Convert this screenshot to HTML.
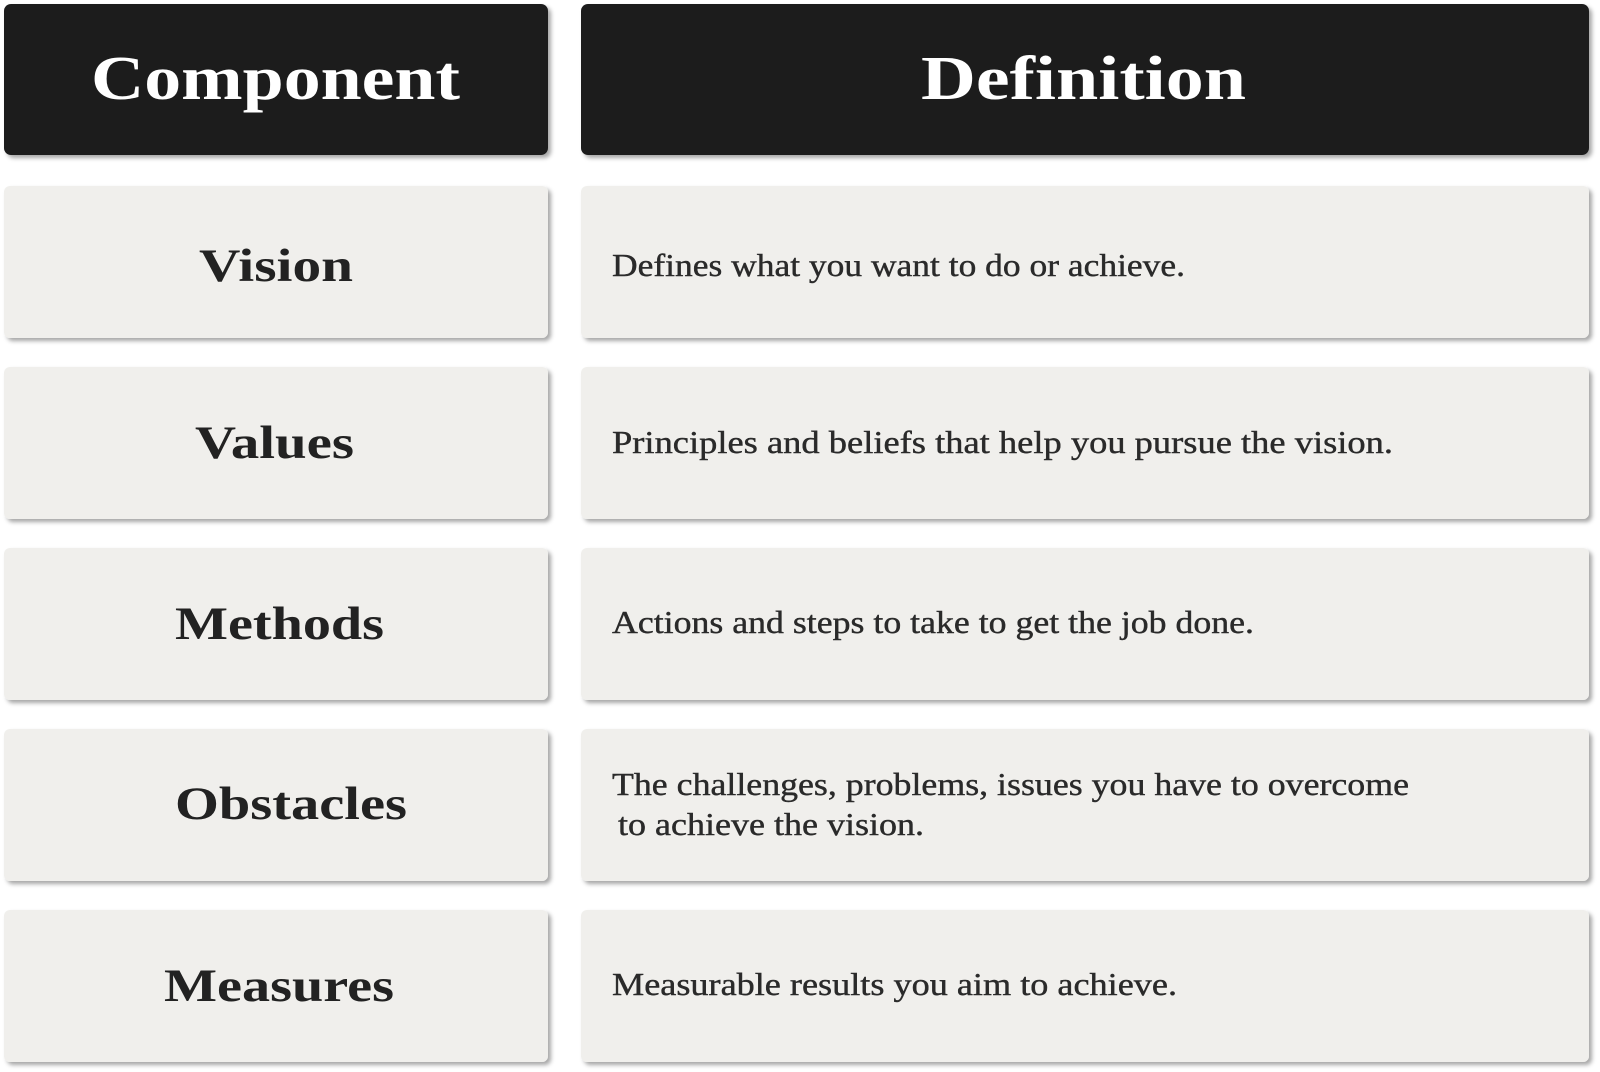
<!DOCTYPE html>
<html><head><meta charset="utf-8"><style>
html,body{margin:0;padding:0;background:#fff;width:1600px;height:1072px;overflow:hidden}
</style></head><body>
<svg width="1600" height="1072" viewBox="0 0 1600 1072" xmlns="http://www.w3.org/2000/svg">
<defs>
<filter id="sh" x="-5%" y="-10%" width="110%" height="125%">
<feDropShadow dx="3" dy="3" stdDeviation="2" flood-color="#000" flood-opacity="0.35"/>
</filter>
</defs>
<g filter="url(#sh)">
<rect x="4" y="4" width="544" height="151" rx="7" fill="#1f1f1f"/>
<rect x="581" y="4" width="1008" height="151" rx="7" fill="#1f1f1f"/>
<rect x="4" y="186" width="544" height="152" rx="6" fill="#f0efec"/>
<rect x="581" y="186" width="1008" height="152" rx="6" fill="#f0efec"/>
<rect x="4" y="367" width="544" height="152" rx="6" fill="#f0efec"/>
<rect x="581" y="367" width="1008" height="152" rx="6" fill="#f0efec"/>
<rect x="4" y="548" width="544" height="152" rx="6" fill="#f0efec"/>
<rect x="581" y="548" width="1008" height="152" rx="6" fill="#f0efec"/>
<rect x="4" y="729" width="544" height="152" rx="6" fill="#f0efec"/>
<rect x="581" y="729" width="1008" height="152" rx="6" fill="#f0efec"/>
<rect x="4" y="910" width="544" height="152" rx="6" fill="#f0efec"/>
<rect x="581" y="910" width="1008" height="152" rx="6" fill="#f0efec"/>
</g>
<g font-family="'Liberation Serif', serif" font-weight="bold">
<text x="91" y="99" font-size="62" fill="#fff" textLength="369" lengthAdjust="spacingAndGlyphs">Component</text>
<text x="921" y="99" font-size="62" fill="#fff" textLength="325" lengthAdjust="spacingAndGlyphs">Definition</text>
<g fill="#222" font-size="47">
<text x="199" y="281" textLength="154" lengthAdjust="spacingAndGlyphs">Vision</text>
<text x="195" y="458" textLength="159" lengthAdjust="spacingAndGlyphs">Values</text>
<text x="175" y="639" textLength="209" lengthAdjust="spacingAndGlyphs">Methods</text>
<text x="175" y="819" textLength="232" lengthAdjust="spacingAndGlyphs">Obstacles</text>
<text x="164" y="1001" textLength="230" lengthAdjust="spacingAndGlyphs">Measures</text>
</g>
</g>
<g font-family="'Liberation Serif', serif" font-size="32" fill="#2a2a2a" stroke="#2a2a2a" stroke-width="0.4">
<text x="612" y="276" textLength="573" lengthAdjust="spacingAndGlyphs">Defines what you want to do or achieve.</text>
<text x="612" y="453" textLength="781" lengthAdjust="spacingAndGlyphs">Principles and beliefs that help you pursue the vision.</text>
<text x="612" y="633" textLength="642" lengthAdjust="spacingAndGlyphs">Actions and steps to take to get the job done.</text>
<text x="612" y="795" textLength="797" lengthAdjust="spacingAndGlyphs">The challenges, problems, issues you have to overcome</text>
<text x="618" y="835" textLength="306" lengthAdjust="spacingAndGlyphs">to achieve the vision.</text>
<text x="612" y="995" textLength="565" lengthAdjust="spacingAndGlyphs">Measurable results you aim to achieve.</text>
</g>
</svg>
</body></html>
